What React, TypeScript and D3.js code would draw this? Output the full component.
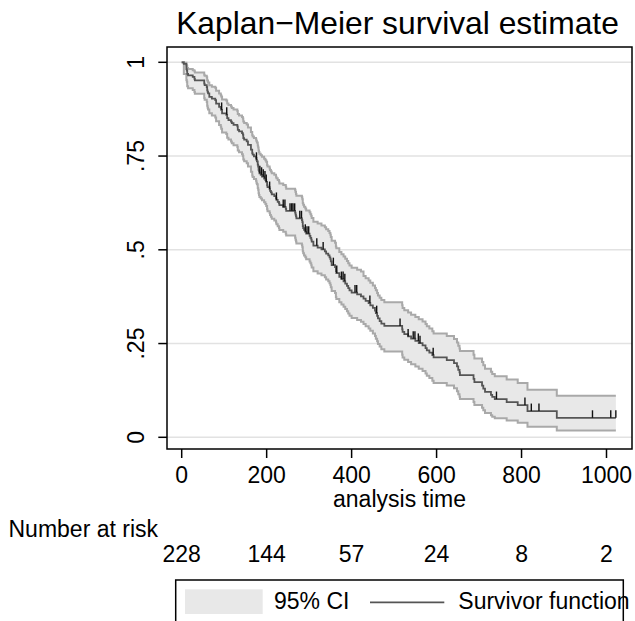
import React from "react";
import * as d3 from "d3";

// Kaplan–Meier step estimates
const eventTimes = [0,5,11,12,13,15,26,30,31,53,54,59,60,61,62,65,71,79,81,88,92,93,95,105,107,110,116,118,122,131,132,135,142,144,145,147,153,156,163,166,167,170,175,176,177,179,180,181,182,183,186,189,194,197,199,201,202,207,208,210,212,218,222,223,226,229,230,239,245,246,267,268,269,270,283,284,285,286,288,291,293,301,303,305,306,310,320,329,337,340,345,348,350,351,353,361,363,364,371,376,381,385,389,392,395,400,413,422,428,433,440,444,450,455,457,460,462,466,470,477,519,520,524,533,540,550,558,567,574,577,583,590,593,624,641,648,651,654,655,687,689,707,710,714,728,731,737,765,791,814,883];
const survival = [1,.996,.982,.978,.969,.965,.961,.956,.952,.943,.939,.934,.925,.921,.917,.908,.903,.899,.890,.881,.877,.873,.864,.860,.851,.846,.842,.838,.833,.829,.820,.816,.811,.807,.798,.794,.789,.780,.767,.758,.754,.749,.745,.740,.736,.727,.722,.713,.709,.704,.700,.695,.690,.686,.681,.672,.667,.662,.657,.653,.648,.643,.638,.633,.628,.624,.619,.614,.609,.604,.599,.594,.589,.584,.579,.574,.563,.558,.553,.548,.543,.537,.532,.527,.522,.511,.506,.501,.496,.490,.485,.480,.475,.469,.459,.454,.443,.438,.428,.422,.416,.410,.404,.398,.392,.386,.381,.376,.370,.364,.358,.352,.345,.338,.331,.324,.317,.310,.303,.297,.288,.281,.275,.269,.263,.257,.251,.245,.238,.232,.226,.219,.213,.206,.198,.189,.180,.173,.166,.156,.147,.138,.130,.121,.113,.108,.102,.094,.086,.070,.052];
const lowerCI = [1,.969,.953,.948,.936,.931,.926,.921,.916,.905,.900,.894,.884,.879,.874,.864,.858,.853,.843,.833,.828,.823,.813,.809,.799,.794,.789,.784,.779,.774,.765,.760,.755,.750,.741,.736,.731,.722,.708,.698,.694,.689,.684,.679,.675,.665,.660,.651,.646,.641,.637,.632,.627,.622,.617,.608,.603,.598,.593,.588,.583,.578,.573,.568,.563,.558,.553,.548,.543,.538,.532,.527,.522,.517,.512,.507,.496,.491,.485,.480,.475,.469,.464,.459,.453,.443,.437,.432,.427,.421,.416,.411,.406,.400,.390,.385,.374,.369,.360,.354,.348,.342,.336,.330,.324,.318,.313,.308,.302,.296,.290,.284,.277,.270,.263,.256,.249,.242,.235,.229,.220,.213,.207,.201,.195,.189,.183,.177,.170,.164,.158,.151,.145,.138,.131,.123,.115,.108,.102,.094,.086,.079,.072,.065,.059,.055,.051,.045,.039,.028,.018];
const upperCI = [1,.999,.993,.991,.985,.982,.979,.976,.973,.967,.964,.960,.953,.950,.946,.939,.935,.932,.924,.917,.913,.909,.901,.898,.890,.886,.882,.878,.874,.870,.862,.858,.854,.850,.842,.838,.834,.826,.814,.806,.802,.798,.794,.790,.786,.778,.773,.765,.761,.756,.752,.748,.743,.739,.735,.726,.722,.717,.713,.709,.704,.700,.695,.691,.686,.682,.677,.673,.668,.663,.659,.654,.649,.644,.640,.635,.625,.620,.615,.610,.605,.600,.595,.590,.585,.575,.570,.565,.560,.555,.550,.545,.540,.534,.524,.519,.509,.504,.494,.488,.482,.476,.470,.464,.458,.452,.447,.442,.430,.424,.418,.412,.405,.398,.392,.385,.378,.372,.366,.360,.352,.345,.339,.333,.327,.321,.315,.309,.302,.296,.290,.283,.277,.270,.262,.253,.244,.237,.230,.220,.210,.201,.192,.183,.175,.169,.163,.154,.145,.127,.111];
const lastTime = 1022;
const censorTimes = [94,106,176,184,188,192,196,199,207,223,239,243,255,259,262,266,278,282,291,295,299,318,333,357,365,376,380,384,408,412,443,459,514,533,545,549,557,561,592,741,808,823,841,967,1010,1022];

const xTicks = [0,200,400,600,800,1000];
const yTicks = [0,0.25,0.5,0.75,1];
const yTickLabels = ["0",".25",".5",".75","1"];
const riskTimes = [0,200,400,600,800,1000];
const riskCounts = [228,144,57,24,8,2];

const FONT = "'Liberation Sans', Arial, Helvetica, sans-serif";
const FS = 23;

export default function App() {
  const x = d3.scaleLinear().domain([0, 1000]).range([181.7, 606.5]);
  const y = d3.scaleLinear().domain([0, 1]).range([437.3, 62.3]);
  const frame = { x0: 167, x1: 632, y0: 47, y1: 449 };

  type Row = { t: number; s: number; lo: number; hi: number };
  const rows: Row[] = eventTimes.map((t, i) => ({ t, s: survival[i], lo: lowerCI[i], hi: upperCI[i] }));
  const last = rows[rows.length - 1];
  rows.push({ t: lastTime, s: last.s, lo: last.lo, hi: last.hi });

  const area = d3.area<Row>().curve(d3.curveStepAfter).x(d => x(d.t)).y0(d => y(d.lo)).y1(d => y(d.hi));
  const lineS = d3.line<Row>().curve(d3.curveStepAfter).x(d => x(d.t)).y(d => y(d.s));
  const lineLo = d3.line<Row>().curve(d3.curveStepAfter).x(d => x(d.t)).y(d => y(d.lo));
  const lineHi = d3.line<Row>().curve(d3.curveStepAfter).x(d => x(d.t)).y(d => y(d.hi));

  const survAt = (t: number) => {
    let s = 1;
    for (let i = 0; i < eventTimes.length; i++) if (eventTimes[i] <= t) s = survival[i];
    return s;
  };

  return (
    <svg width={635} height={621} style={{ position: "absolute", left: 0, top: 0, background: "#fff" }} fontFamily={FONT}>
      <rect x={0} y={0} width={635} height={621} fill="#fff" />
      <text x={397.5} y={33.5} fontSize={31.8} textAnchor="middle" fill="#000">Kaplan−Meier survival estimate</text>

      {yTicks.map(v => (
        <line key={"g" + v} x1={frame.x0} x2={frame.x1} y1={y(v)} y2={y(v)} stroke="#e2e2e2" strokeWidth={1.5} />
      ))}

      <path d={area(rows) || ""} fill="#e8e8e8" stroke="none" />
      <path d={lineLo(rows) || ""} fill="none" stroke="#a9a9a9" strokeWidth={2} />
      <path d={lineHi(rows) || ""} fill="none" stroke="#a9a9a9" strokeWidth={2} />
      <path d={lineS(rows) || ""} fill="none" stroke="#555" strokeWidth={1.8} />
      {censorTimes.map((t, i) => (
        <line key={"c" + i} x1={x(t)} x2={x(t)} y1={y(survAt(t))} y2={y(survAt(t)) - 7.5} stroke="#111" strokeWidth={1.4} />
      ))}

      <rect x={frame.x0} y={frame.y0} width={frame.x1 - frame.x0} height={frame.y1 - frame.y0} fill="none" stroke="#000" strokeWidth={1.5} />

      {yTicks.map((v, i) => (
        <g key={"yt" + v}>
          <line x1={158.3} x2={frame.x0} y1={y(v)} y2={y(v)} stroke="#000" strokeWidth={1.5} />
          <text transform={`translate(143.5,${y(v)}) rotate(-90)`} fontSize={FS} textAnchor="middle" fill="#000">{yTickLabels[i]}</text>
        </g>
      ))}

      {xTicks.map(v => (
        <g key={"xt" + v}>
          <line x1={x(v)} x2={x(v)} y1={frame.y1} y2={frame.y1 + 9} stroke="#000" strokeWidth={1.5} />
          <text x={x(v)} y={482.7} fontSize={FS} textAnchor="middle" fill="#000">{v}</text>
        </g>
      ))}
      <text x={(frame.x0 + frame.x1) / 2} y={507} fontSize={FS} textAnchor="middle" fill="#000">analysis time</text>

      <text x={8.5} y={537} fontSize={FS} fill="#000">Number at risk</text>
      {riskTimes.map((t, i) => (
        <text key={"r" + t} x={x(t)} y={562} fontSize={FS} textAnchor="middle" fill="#000">{riskCounts[i]}</text>
      ))}

      <rect x={175.7} y={580} width={447.6} height={80} fill="#fff" stroke="#000" strokeWidth={1.5} />
      <rect x={185} y={589.3} width={77.7} height={24.7} fill="#e8e8e8" />
      <text x={274} y={608.5} fontSize={FS} fill="#000">95% CI</text>
      <line x1={370} x2={444.3} y1={602.3} y2={602.3} stroke="#555" strokeWidth={1.8} />
      <text x={458.3} y={608.5} fontSize={FS} fill="#000">Survivor function</text>
    </svg>
  );
}
